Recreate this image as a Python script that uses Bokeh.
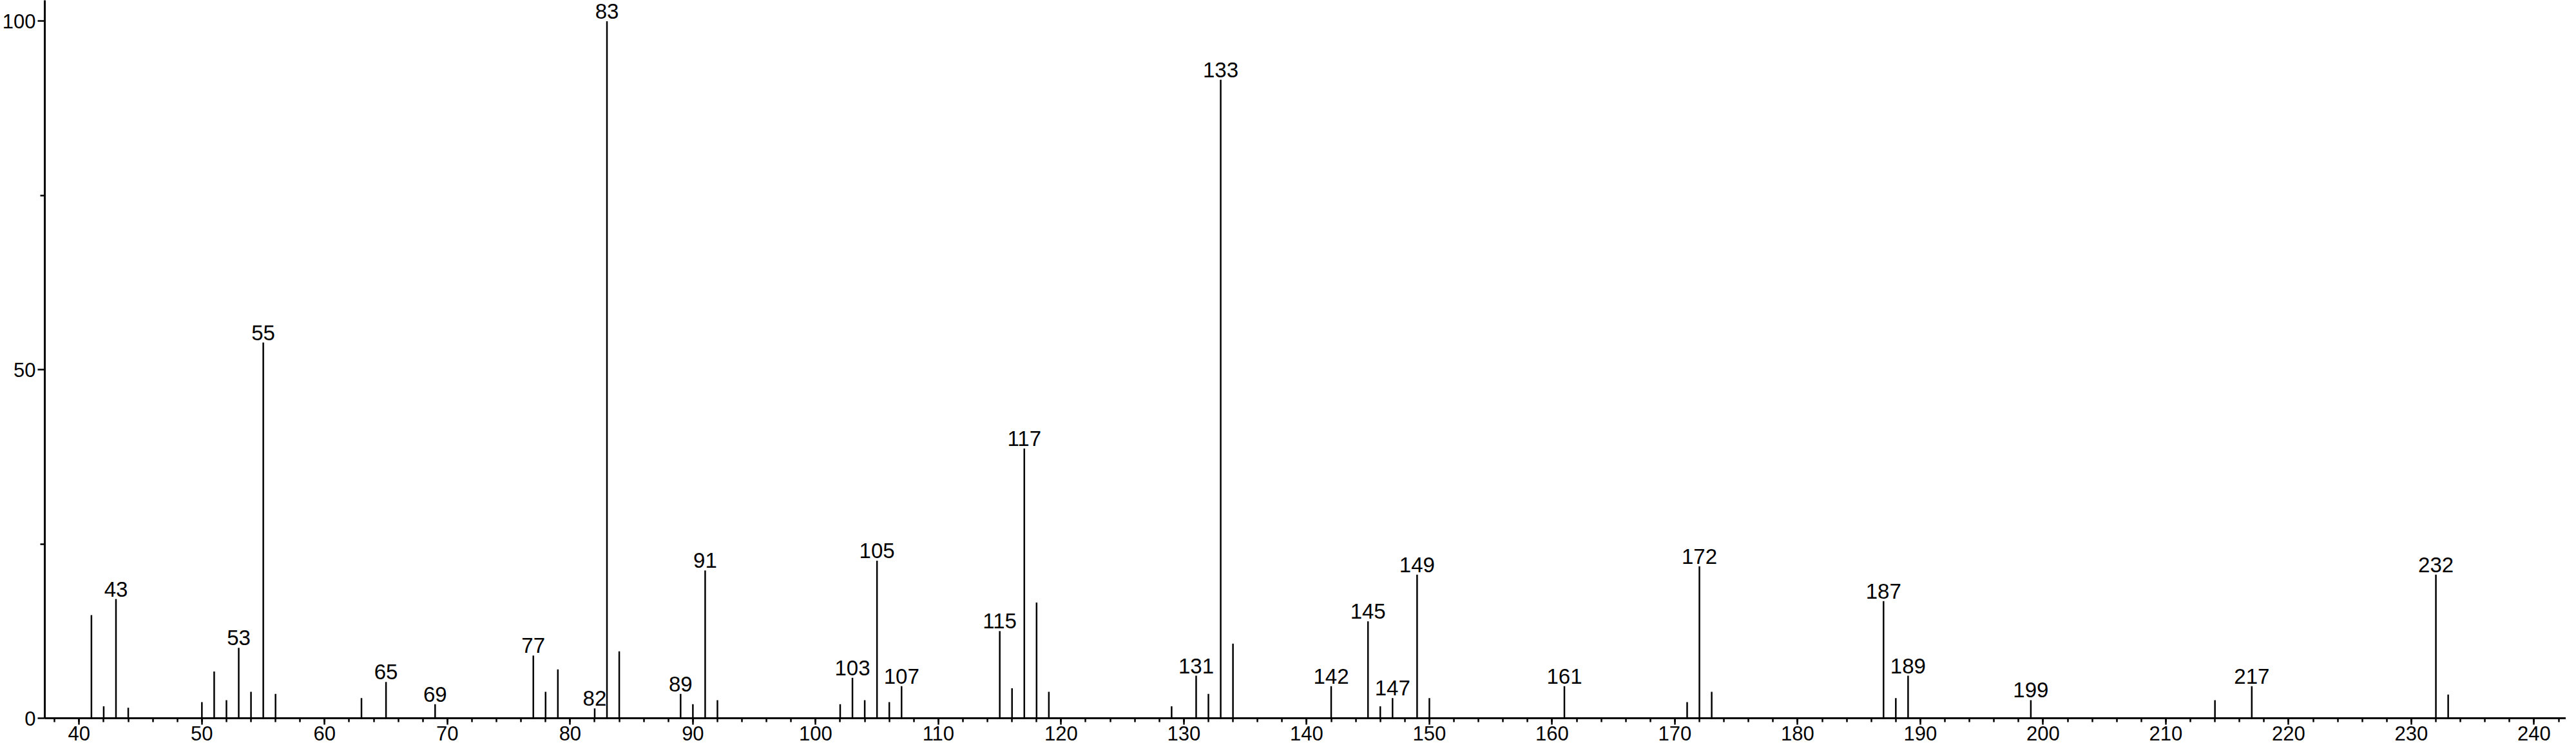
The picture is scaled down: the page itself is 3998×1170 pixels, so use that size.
from bokeh.plotting import figure
from bokeh.models import ColumnDataSource, FixedTicker, Range1d
from bokeh.core.properties import value
from bokeh.embed import file_html
from bokeh.resources import INLINE

# m/z values and relative intensities
mz = [41, 42, 43, 44, 50, 51, 52, 53, 54, 55, 56, 63, 65, 69, 77, 78, 79, 82, 83, 84,
      89, 90, 91, 92, 102, 103, 104, 105, 106, 107, 115, 116, 117, 118, 119,
      129, 131, 132, 133, 134, 142, 145, 146, 147, 149, 150, 161, 171, 172, 173,
      187, 188, 189, 199, 214, 217, 232, 233]
intensity = [14.8, 1.7, 17.1, 1.5, 2.3, 6.7, 2.6, 10.1, 3.8, 53.9, 3.5, 2.9, 5.2, 2.0, 9.0, 3.8, 7.0, 1.4, 100.0, 9.6,
             3.5, 2.0, 21.2, 2.6, 2.0, 5.8, 2.6, 22.6, 2.3, 4.6, 12.5, 4.3, 38.7, 16.6, 3.8,
             1.7, 6.1, 3.5, 91.6, 10.7, 4.6, 13.9, 1.7, 2.9, 20.6, 2.9, 4.6, 2.3, 21.8, 3.8,
             16.8, 2.9, 6.1, 2.6, 2.6, 4.6, 20.6, 3.4]
labeled_mz = [43, 53, 55, 65, 69, 77, 82, 83, 89, 91, 103, 105, 107, 115, 117, 131, 133,
              142, 145, 147, 149, 161, 172, 187, 189, 199, 217, 232]
x_major_ticks = list(range(40, 250, 10))
x_minor_ticks = list(range(38, 244, 2))
y_major_ticks = [0, 50, 100]
y_minor_ticks = [25, 75]

FONT = "Liberation Sans"

peaks = ColumnDataSource(data=dict(x=mz, y0=[0] * len(mz), y=intensity))
lab_y = [intensity[mz.index(m)] for m in labeled_mz]
labels = ColumnDataSource(data=dict(x=labeled_mz, y=lab_y, t=[str(m) for m in labeled_mz]))

p = figure(width=3982, height=1154, output_backend="svg", toolbar_location=None,
           x_range=Range1d(37.2, 242.6), y_range=Range1d(0, 103.0),
           min_border_left=61, min_border_right=0, min_border_top=0, min_border_bottom=40)
p.outline_line_color = None
p.background_fill_color = "white"
p.border_fill_color = "white"
p.xgrid.visible = False
p.ygrid.visible = False

p.segment(x0="x", y0="y0", x1="x", y1="y", source=peaks, line_color="black", line_width=2.5)
p.text(x="x", y="y", text="t", source=labels, text_align="center", text_baseline="bottom",
       y_offset=-4, text_font=value(FONT), text_font_size="33px", text_color="black")

for ax in (p.xaxis[0], p.yaxis[0]):
    ax.axis_line_width = 3
    ax.axis_line_color = "black"
    ax.major_tick_line_width = 2.5
    ax.minor_tick_line_width = 2.5
    ax.major_tick_in = 0
    ax.minor_tick_in = 0
    ax.major_label_text_font = FONT
    ax.major_label_text_font_size = "31px"
    ax.major_label_text_color = "black"

p.xaxis.ticker = FixedTicker(ticks=x_major_ticks, minor_ticks=x_minor_ticks)
p.xaxis.major_tick_out = 10
p.xaxis.minor_tick_out = 6
p.xaxis.major_label_standoff = 2

p.yaxis.ticker = FixedTicker(ticks=y_major_ticks, minor_ticks=y_minor_ticks)
p.yaxis.major_tick_out = 11
p.yaxis.minor_tick_out = 7
p.yaxis.major_label_standoff = 3

open("out.html", "w").write(file_html(p, INLINE))
